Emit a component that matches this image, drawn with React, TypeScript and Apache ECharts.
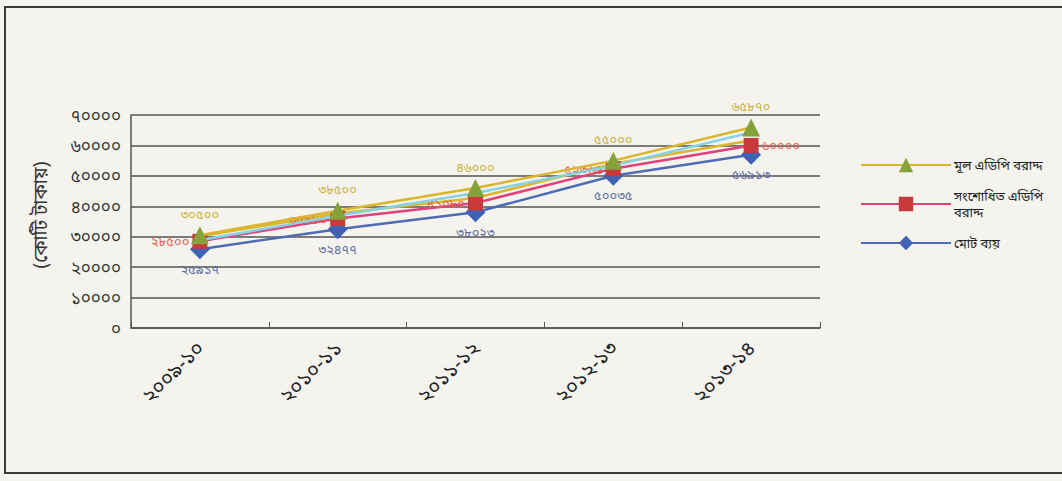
import React, { useEffect, useRef } from "react";
import * as echarts from "echarts";

const categories = ["২০০৯-১০", "২০১০-১১", "২০১১-১২", "২০১২-১৩", "২০১৩-১৪"];
const originalAdp = [30500, 38500, 46000, 55000, 65870];
const revisedAdp = [28500, 35980, 41080, 52366, 60000];
const totalSpend = [25917, 32477, 38023, 50035, 56913];
const seriesNames = ["মূল এডিপি বরাদ্দ", "সংশোধিত এডিপি বরাদ্দ", "মোট ব্যয়"];
const yAxisName = "(কোটি টাকায়)";

const bnDigits = ["০", "১", "২", "৩", "৪", "৫", "৬", "৭", "৮", "৯"];
const toBn = (v: number | string) => String(v).replace(/[0-9]/g, (d) => bnDigits[Number(d)]);

const FONT = "'Noto Sans', 'Noto Sans Bengali', 'Lohit Bengali', sans-serif";

export default function App() {
  const ref = useRef<HTMLDivElement>(null);
  useEffect(() => {
    if (!ref.current) return;
    const chart = echarts.init(ref.current, undefined, { renderer: "svg" });
    chart.setOption({
      animation: false,
      backgroundColor: "#f4f3ee",
      textStyle: { fontFamily: FONT },
      graphic: [
        {
          type: "rect",
          shape: { x: 5, y: 7, width: 1070, height: 466 },
          style: { fill: "none", stroke: "#3a3a3a", lineWidth: 2 },
          silent: true,
        },
        {
          type: "text",
          x: 40,
          y: 215,
          rotation: Math.PI / 2,
          style: {
            text: yAxisName,
            font: `19px ${FONT}`,
            fill: "#333",
            textAlign: "center",
            textVerticalAlign: "middle",
          },
        },
      ],
      legend: {
        orient: "vertical",
        left: 855,
        top: 145,
        itemWidth: 90,
        itemHeight: 18,
        itemGap: 1,
        data: seriesNames,
        formatter: (n: string) => (n === seriesNames[1] ? "সংশোধিত এডিপি\nবরাদ্দ" : n),
        textStyle: { fontFamily: FONT, fontSize: 13, color: "#222", padding: [14, 0, 0, -2], lineHeight: 16 },
      },
      grid: { left: 131, right: 242, top: 115, bottom: 153 },
      xAxis: {
        type: "category",
        data: categories,
        boundaryGap: true,
        axisLine: { lineStyle: { color: "#555", width: 1.5 } },
        axisTick: { show: true, inside: true, length: 6, lineStyle: { color: "#555" } },
        axisLabel: { rotate: 45, fontSize: 20, color: "#222", margin: 16, fontFamily: FONT },
      },
      yAxis: {
        type: "value",
        min: 0,
        max: 70000,
        interval: 10000,
        axisLine: { show: true, lineStyle: { color: "#555", width: 1.5 } },
        axisTick: { show: false },
        axisLabel: { formatter: (v: number) => toBn(v), fontSize: 17, color: "#333", margin: 10, fontFamily: FONT },
        splitLine: { lineStyle: { color: "#555", width: 1.5 } },
      },
      series: [
        {
          name: seriesNames[0],
          type: "line",
          data: originalAdp,
          symbol: "triangle",
          symbolSize: 18,
          itemStyle: { color: "#86a23a" },
          lineStyle: { color: "#dcb52e", width: 2.5, shadowColor: "#85d2e4", shadowOffsetY: 5, shadowBlur: 0 },
          label: {
            show: true,
            position: "top",
            distance: 6,
            formatter: (p: any) => toBn(p.value),
            color: "#c9b23a",
            fontSize: 13,
            textShadowColor: "#8fd3e0",
            textShadowOffsetX: 1,
            textShadowOffsetY: 1,
          },
          z: 3,
        },
        {
          name: seriesNames[1],
          type: "line",
          data: revisedAdp.map((v, i) => ({
            value: v,
            label: { position: i === revisedAdp.length - 1 ? "right" : "left" },
          })),
          symbol: "rect",
          symbolSize: 15,
          itemStyle: { color: "#c8393c" },
          lineStyle: { color: "#e0407c", width: 2.5, shadowColor: "#dcb52e", shadowOffsetY: -5, shadowBlur: 0 },
          label: {
            show: true,
            distance: 3,
            formatter: (p: any) => toBn(p.value),
            color: "#e0604a",
            fontSize: 13,
          },
          z: 2,
        },
        {
          name: seriesNames[2],
          type: "line",
          data: totalSpend,
          symbol: "diamond",
          symbolSize: 20,
          itemStyle: { color: "#3f63b2" },
          lineStyle: { color: "#4d6cb6", width: 2.5 },
          label: {
            show: true,
            position: "bottom",
            distance: 3,
            formatter: (p: any) => toBn(p.value),
            color: "#5a6a9c",
            fontSize: 13,
          },
          z: 1,
        },
      ],
    });
    return () => chart.dispose();
  }, []);
  return <div ref={ref} style={{ position: "fixed", left: 0, top: 0, width: 1062, height: 481 }} />;
}
